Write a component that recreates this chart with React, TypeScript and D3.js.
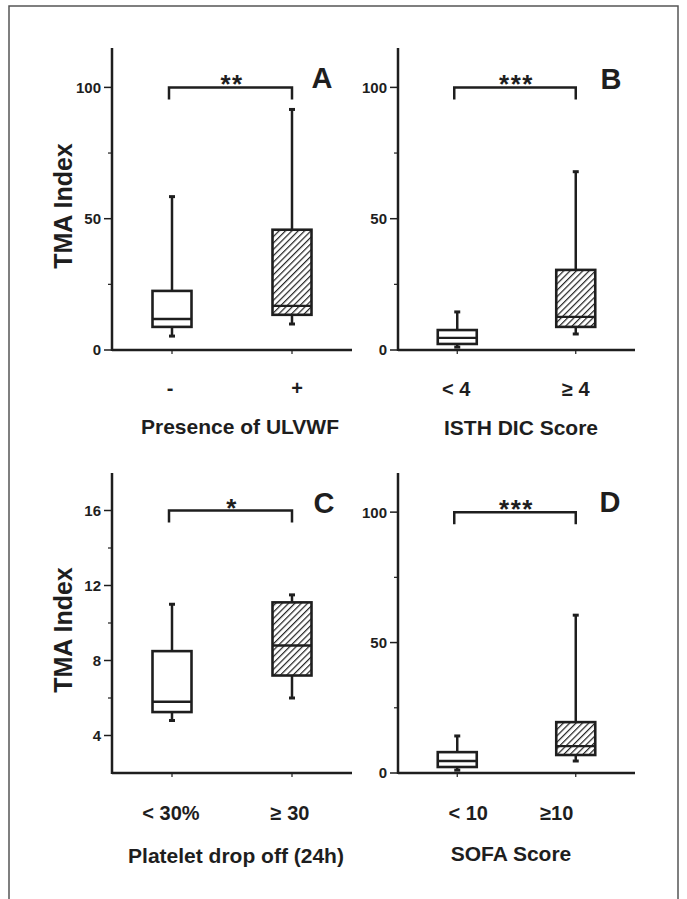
import React from 'react';
import * as d3 from 'd3';

// box stats: [min, q1, median, q3, max]
const catsA = ['-', '+'];
const boxA = [[5.3, 8.8, 11.8, 22.5, 58.4], [9.9, 13.4, 16.8, 45.8, 91.6]];
const catsB = ['< 4', '≥ 4'];
const boxB = [[1.1, 2.3, 4.6, 7.6, 14.5], [6.1, 8.8, 12.6, 30.5, 67.9]];
const catsC = ['< 30%', '≥ 30'];
const boxC = [[4.8, 5.25, 5.8, 8.5, 11.0], [6.0, 7.2, 8.8, 11.1, 11.5]];
const catsD = ['< 10', '≥10'];
const boxD = [[1.1, 2.3, 4.6, 8.0, 14.2], [4.6, 6.9, 10.3, 19.5, 60.5]];

const titles = ['Presence of ULVWF', 'ISTH DIC Score', 'Platelet drop off (24h)', 'SOFA Score'];
const letters = ['A', 'B', 'C', 'D'];
const stars = ['**', '***', '*', '***'];
const bracketAt = [100, 100, 16, 100];

const ticksBig = [0, 50, 100];
const ticksBigMinor = [25, 75];
const ticksSmall = [4, 8, 12, 16];
const ticksSmallMinor = [6, 10, 14];

const FONT = '"Liberation Sans", Arial, sans-serif';
const INK = '#1e1e1e';

const panels = [
  { cats: catsA, box: boxA, dom: [0, 115], ticks: ticksBig, minor: ticksBigMinor,
    x0: 112, x1: 352, y0: 350, y1: 48, letterX: 322, letterY: 88, catY: 395, titleY: 434,
    titleX: 240, catDx: [-2, 5], yLabel: true },
  { cats: catsB, box: boxB, dom: [0, 115], ticks: ticksBig, minor: ticksBigMinor,
    x0: 398, x1: 635, y0: 350, y1: 48, letterX: 611, letterY: 89, catY: 396, titleY: 435,
    titleX: 521, catDx: [-1, 0], yLabel: false },
  { cats: catsC, box: boxC, dom: [2, 18], ticks: ticksSmall, minor: ticksSmallMinor,
    x0: 112, x1: 352, y0: 773, y1: 473, letterX: 324, letterY: 513, catY: 820, titleY: 863,
    titleX: 236, catDx: [-1, -2], yLabel: true },
  { cats: catsD, box: boxD, dom: [0, 115], ticks: ticksBig, minor: ticksBigMinor,
    x0: 398, x1: 635, y0: 773, y1: 473, letterX: 610, letterY: 512, catY: 820, titleY: 861,
    titleX: 511, catDx: [11, -19], yLabel: false },
];

const Panel = ({ p, i }) => {
  const y = d3.scaleLinear().domain(p.dom).range([p.y0, p.y1]);
  const x = d3.scalePoint().domain(p.cats).range([p.x0, p.x1]).padding(0.5);
  const bw = 39;
  const bx0 = x(p.cats[0]);
  const bx1 = x(p.cats[1]);
  const by = y(bracketAt[i]);
  return (
    <g>
      {/* axes */}
      <line x1={p.x0} x2={p.x0} y1={p.y1} y2={p.y0 + 1} stroke={INK} strokeWidth={2.5} />
      <line x1={p.x0} x2={p.x1} y1={p.y0} y2={p.y0} stroke={INK} strokeWidth={2.5} />
      {p.ticks.map(t => (
        <g key={t}>
          <line x1={p.x0 - 8} x2={p.x0} y1={y(t)} y2={y(t)} stroke={INK} strokeWidth={1.5} />
          <text x={p.x0 - 11} y={y(t)} dy="0.36em" textAnchor="end" fontSize={15}
            fontWeight="bold" fill={INK} fontFamily={FONT}>{t}</text>
        </g>
      ))}
      {p.minor.map(t => (
        <line key={t} x1={p.x0 - 4} x2={p.x0} y1={y(t)} y2={y(t)} stroke={INK} strokeWidth={1.2} />
      ))}
      {p.cats.map(c => (
        <line key={c} x1={x(c)} x2={x(c)} y1={p.y0} y2={p.y0 + 4} stroke={INK} strokeWidth={1.2} />
      ))}
      {/* boxes */}
      {p.box.map((b, k) => {
        const cx = x(p.cats[k]);
        const [mn, q1, md, q3, mx] = b.map(y);
        return (
          <g key={k}>
            <line x1={cx} x2={cx} y1={q3} y2={mx} stroke={INK} strokeWidth={2.5} />
            <line x1={cx} x2={cx} y1={q1} y2={mn} stroke={INK} strokeWidth={2.5} />
            <line x1={cx - 3} x2={cx + 3} y1={mx} y2={mx} stroke={INK} strokeWidth={3} />
            <line x1={cx - 3} x2={cx + 3} y1={mn} y2={mn} stroke={INK} strokeWidth={3} />
            <rect x={cx - bw / 2} y={q3} width={bw} height={q1 - q3}
              fill={k === 1 ? 'url(#hatch)' : '#fff'} stroke={INK} strokeWidth={2.6} />
            <line x1={cx - bw / 2} x2={cx + bw / 2} y1={md} y2={md} stroke={INK} strokeWidth={2.4} />
          </g>
        );
      })}
      {/* significance bracket */}
      <path d={`M${bx0 - 3},${by + 12}V${by}H${bx1}V${by + 12}`} fill="none" stroke={INK} strokeWidth={2.5} />
      <text x={(bx0 + bx1) / 2} y={by + 6} textAnchor="middle" fontSize={26} fontWeight="bold"
        letterSpacing={1.5} fill={INK} fontFamily={FONT}>{stars[i]}</text>
      <text x={p.letterX} y={p.letterY} textAnchor="middle" fontSize={29} fontWeight="bold"
        fill={INK} fontFamily={FONT}>{letters[i]}</text>
      {/* labels */}
      {p.cats.map((c, k) => (
        <text key={c} x={x(c) + p.catDx[k]} y={p.catY} textAnchor="middle" fontSize={20}
          fontWeight="bold" fill={INK} fontFamily={FONT}>{c}</text>
      ))}
      <text x={p.titleX} y={p.titleY} textAnchor="middle" fontSize={21} fontWeight="bold"
        fill={INK} fontFamily={FONT}>{titles[i]}</text>
      {p.yLabel && (
        <text transform={`translate(72,${(p.y0 + p.y1) / 2 + 7}) rotate(-90)`} textAnchor="middle"
          fontSize={25} fontWeight="bold" fill={INK} fontFamily={FONT}>TMA Index</text>
      )}
    </g>
  );
};

export default function App() {
  return (
    <svg width={687} height={899} style={{ position: 'absolute', left: 0, top: 0, background: '#fff' }}>
      <defs>
        <pattern id="hatch" patternUnits="userSpaceOnUse" width={4.5} height={4.5}
          patternTransform="rotate(45)">
          <rect width={4.5} height={4.5} fill="#fff" />
          <line x1={0} y1={0} x2={0} y2={4.5} stroke="#222" strokeWidth={2.4} />
        </pattern>
      </defs>
      <rect x={9} y={6} width={669} height={1000} fill="none" stroke="#555" strokeWidth={1.5} />
      {panels.map((p, i) => <Panel key={i} p={p} i={i} />)}
    </svg>
  );
}
